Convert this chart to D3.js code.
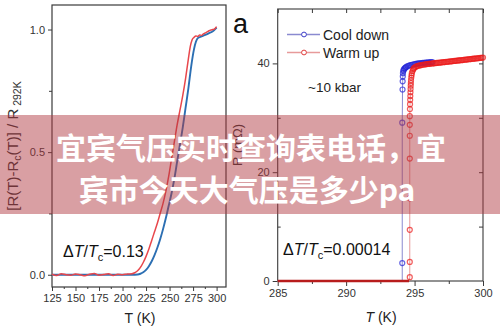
<!DOCTYPE html>
<html><head><meta charset="utf-8">
<script src="https://cdn.jsdelivr.net/npm/d3@7"></script>
<style>
html,body{margin:0;padding:0;background:#fff;}
svg{display:block;font-family:"Liberation Sans",Arial,sans-serif;}
</style></head>
<body>
<svg id="chart" width="500" height="331"></svg>
<script>
// ---------- Left panel data: normalized resistance vs T ----------
const leftRedT  = [125,130,135,140,145,150,155,160,165,170,175,180,185,190,195,200,205,210,213,216,219,222,225,228,231,234,237,240,243,246,249,252,255,258,261,264,267,270,272,274,276,278,280,282,284,286,288,290,292,294,296,298,300];
const leftRedV  = [0.002,-0.003,0.004,0.0,-0.002,0.003,0.0,-0.004,0.002,0.005,-0.002,0.001,0.004,-0.003,0.002,0.0,0.003,0.004,0.008,0.016,0.03,0.05,0.075,0.105,0.14,0.175,0.21,0.25,0.29,0.34,0.4,0.47,0.54,0.61,0.67,0.73,0.8,0.88,0.93,0.958,0.968,0.974,0.972,0.978,0.976,0.982,0.986,0.99,0.995,0.998,1.0,1.003,1.012];
const leftBlueT = [125,150,175,200,210,216,219,222,225,228,231,234,237,240,243,246,249,252,255,258,261,264,267,270,273,276,278,280,284,288,292,296,300];
const leftBlueV = [0,0,0,0,0,0.001,0.004,0.01,0.02,0.035,0.055,0.08,0.11,0.145,0.185,0.23,0.28,0.33,0.39,0.46,0.53,0.6,0.68,0.76,0.85,0.92,0.95,0.965,0.972,0.978,0.985,0.993,1.008];
const leftXTicks = [125,150,175,200,225,250,275,300];
const leftYTicks = [0,0.5,1.0];
const leftYTickLabels = ["0.0","0.5","1.0"];

// ---------- Right panel data: R (mOhm) vs T ----------
const coolT = [285,294.1,294.1,294.1,294.12,294.13,294.14,294.15,294.18,294.2,294.25,294.3,294.35,294.4,294.5,294.6,294.7,294.8,294.9,295.0,295.1,295.2,295.3,295.4,295.5,295.6,295.7,295.8,295.9,296.0,296.1,296.2,296.3];
const coolR = [0,0,3.3,29.1,35.2,36.7,37.6,38.2,38.6,38.8,39.0,39.15,39.25,39.35,39.5,39.6,39.68,39.75,39.8,39.85,39.9,39.95,40.0,40.02,40.05,40.08,40.1,40.13,40.15,40.18,40.2,40.22,40.25];
const warmT = [285,294.6,294.65,294.65,294.65,294.65,294.65,294.65,294.65,294.65,294.66,294.67,294.68,294.69,294.7,294.71,294.72,294.73,294.74,294.76,294.78,294.8,294.85,294.9,294.95,295.0,295.1,295.2,295.3,295.4,295.5,295.6,295.7,295.8,295.9,296.0,296.1,296.2,296.3,296.4,296.5,296.6,296.7,296.8,296.9,297.0,297.1,297.2,297.3,297.4,297.5,297.6,297.7,297.8,297.9,298.0,298.1,298.2,298.3,298.4,298.5,298.6,298.7,298.8,298.9,299.0,299.1,299.2,299.3,299.4,299.5,299.6,299.7,299.8,299.9,300.0];
const warmR = [0,0,0.7,3.5,9.4,15.2,22.5,26.7,28.7,30.3,31.6,32.5,33.3,34.0,34.7,35.3,35.9,36.4,36.9,37.4,37.8,38.2,38.6,38.9,39.1,39.25,39.4,39.5,39.58,39.65,39.7,39.75,39.8,39.83,39.87,39.9,39.93,39.96,39.99,40.02,40.05,40.08,40.1,40.13,40.16,40.19,40.22,40.25,40.28,40.3,40.33,40.36,40.39,40.42,40.45,40.48,40.51,40.54,40.56,40.59,40.62,40.65,40.68,40.71,40.74,40.77,40.8,40.83,40.86,40.89,40.92,40.95,40.98,41.01,41.04,41.07];
const rightXTicks = [285,290,295,300];
const rightYTicks = [0,20,40];
const legendLabels = ["Cool down","Warm up"];

const bannerLines = ["宜宾气压实时查询表电话，宜","宾市今天大气压是多少pa"];

const svg = d3.select("#chart");
const axisColor = "#3a3a3a";
const txtColor = "#222";

// ================= LEFT PANEL =================
const L = {x0:52, x1:226, y0:5, y1:287};
const xL = d3.scaleLinear().domain([125,310]).range([L.x0, L.x1]);
const yL = d3.scaleLinear().domain([-0.05,1.1]).range([L.y1, L.y0]);

const gL = svg.append("g");
const axL = gL.append("g").attr("transform",`translate(0,${L.y1})`)
  .call(d3.axisBottom(xL).tickValues(leftXTicks).tickSize(4).tickSizeOuter(0).tickPadding(3));
const axLm = gL.append("g").attr("transform",`translate(0,${L.y1})`)
  .call(d3.axisBottom(xL).tickValues(leftXTicks.map(d=>d+12.5).filter(d=>d<310)).tickSize(2).tickFormat(""));
const ayL = gL.append("g").attr("transform",`translate(${L.x0},0)`)
  .call(d3.axisLeft(yL).tickValues(leftYTicks).tickFormat((d,i)=>leftYTickLabels[i]).tickSize(4).tickSizeOuter(0).tickPadding(3));
const ayLm = gL.append("g").attr("transform",`translate(${L.x0},0)`)
  .call(d3.axisLeft(yL).tickValues([0.25,0.75]).tickSize(3).tickFormat(""));
[axL,axLm,ayL,ayLm].forEach(a=>{
  a.select(".domain").remove();
  a.selectAll("line").attr("stroke",axisColor);
  a.selectAll("text").attr("fill","#333").attr("font-size",11).attr("font-family","Liberation Sans, Arial, sans-serif");
});
gL.append("rect").attr("x",L.x0).attr("y",L.y0).attr("width",L.x1-L.x0).attr("height",L.y1-L.y0)
  .attr("fill","none").attr("stroke",axisColor).attr("stroke-width",1.2);

const lineL = d3.line().x(d=>xL(d[0])).y(d=>yL(d[1])).curve(d3.curveMonotoneX);
gL.append("path").datum(d3.zip(leftBlueT,leftBlueV)).attr("d",lineL)
  .attr("fill","none").attr("stroke","#2c6fb3").attr("stroke-width",1.9);
gL.append("path").datum(d3.zip(leftRedT,leftRedV)).attr("d",lineL)
  .attr("fill","none").attr("stroke","#e8474c").attr("stroke-width",1.5);

gL.append("text").attr("x",140).attr("y",323).attr("text-anchor","middle")
  .attr("font-size",14).attr("fill",txtColor).text("T (K)");
const ylab = gL.append("text").attr("transform","translate(18,146) rotate(-90)")
  .attr("text-anchor","middle").attr("font-size",15).attr("fill","#333");
ylab.append("tspan").text("[R(T)-R");
ylab.append("tspan").attr("font-size",10.5).attr("dy",3).text("c");
ylab.append("tspan").attr("dy",-3).text("(T)] / R");
ylab.append("tspan").attr("font-size",10.5).attr("dy",3).text(" 292K");

function dtText(g,x,y,val){
  const t = g.append("text").attr("x",x).attr("y",y).attr("font-size",16).attr("fill","#111");
  t.append("tspan").text("Δ");
  t.append("tspan").attr("font-style","italic").text("T");
  t.append("tspan").text("/");
  t.append("tspan").attr("font-style","italic").text("T");
  t.append("tspan").attr("font-size",11).attr("dy",4).text("c");
  t.append("tspan").attr("dy",-4).text("="+val);
}
dtText(gL,63,256.5,"0.13");

// ================= RIGHT PANEL =================
const R = {x0:277.7, x1:483, y0:9, y1:281};
const xR = d3.scaleLinear().domain([285,300]).range([R.x0,R.x1]);
const yR = d3.scaleLinear().domain([0,50]).range([R.y1,R.y0]);
const gR = svg.append("g");

const axes = [];
axes.push(gR.append("g").attr("transform",`translate(0,${R.y1})`)
  .call(d3.axisBottom(xR).tickValues(rightXTicks).tickSize(5).tickSizeOuter(0).tickPadding(3)));
axes.push(gR.append("g").attr("transform",`translate(0,${R.y1})`)
  .call(d3.axisBottom(xR).tickValues([287.5,292.5,297.5]).tickSize(3).tickFormat("")));
axes.push(gR.append("g").attr("transform",`translate(0,${R.y0})`)
  .call(d3.axisBottom(xR).tickValues([285,287.5,290,292.5,295,297.5,300]).tickSize(4).tickFormat("")));
axes.push(gR.append("g").attr("transform",`translate(${R.x0},0)`)
  .call(d3.axisLeft(yR).tickValues(rightYTicks).tickSize(5).tickSizeOuter(0).tickPadding(3)));
axes.push(gR.append("g").attr("transform",`translate(${R.x0},0)`)
  .call(d3.axisRight(yR).tickValues([10,30]).tickSize(3).tickFormat("")));
axes.push(gR.append("g").attr("transform",`translate(${R.x1},0)`)
  .call(d3.axisLeft(yR).tickValues([10,20,30,40]).tickSize(4).tickFormat("")));
axes.forEach(a=>{
  a.select(".domain").remove();
  a.selectAll("line").attr("stroke",axisColor);
  a.selectAll("text").attr("fill","#333").attr("font-size",11).attr("font-family","Liberation Sans, Arial, sans-serif");
});
gR.append("rect").attr("x",R.x0).attr("y",R.y0).attr("width",R.x1-R.x0).attr("height",R.y1-R.y0)
  .attr("fill","none").attr("stroke",axisColor).attr("stroke-width",1.1);

const lineR = d3.line().x(d=>xR(d[0])).y(d=>yR(d[1]));
const cool = d3.zip(coolT,coolR), warm = d3.zip(warmT,warmR);
gR.append("path").datum(cool).attr("d",lineR).attr("fill","none").attr("stroke","#8a8ad0").attr("stroke-width",1);
gR.append("path").datum(warm).attr("d",lineR).attr("fill","none").attr("stroke","#e79a9a").attr("stroke-width",1);
gR.append("g").selectAll("circle").data(cool.filter(d=>d[1]>0.5)).join("circle")
  .attr("cx",d=>xR(d[0])).attr("cy",d=>yR(d[1])).attr("r",2.5)
  .attr("fill","none").attr("stroke","rgb(35,35,215)").attr("stroke-opacity",0.7).attr("stroke-width",1.2);
gR.append("g").selectAll("circle").data(warm.filter(d=>d[1]>0.3)).join("circle")
  .attr("cx",d=>xR(d[0])).attr("cy",d=>yR(d[1])).attr("r",2.5)
  .attr("fill","none").attr("stroke","rgb(235,25,25)").attr("stroke-opacity",0.7).attr("stroke-width",1.2);
gR.append("path").datum(warm.filter(d=>d[1]===0)).attr("d",lineR)
  .attr("fill","none").attr("stroke","#b81c1c").attr("stroke-width",2.6);

const legColors = [["#8a8ad0","rgb(60,60,200)"],["#e79a9a","rgb(225,60,60)"]];
legendLabels.forEach((lab,i)=>{
  const y = 34.5 + i*18;
  gR.append("line").attr("x1",287).attr("x2",320).attr("y1",y).attr("y2",y).attr("stroke",legColors[i][0]).attr("stroke-width",1.3);
  gR.append("circle").attr("cx",304).attr("cy",y).attr("r",2.4).attr("fill","#fff").attr("stroke",legColors[i][1]).attr("stroke-width",1);
  gR.append("text").attr("x",323).attr("y",y+5).attr("font-size",14).attr("fill",txtColor).text(lab);
});
gR.append("text").attr("x",308).attr("y",92).attr("font-size",13.5).attr("fill",txtColor).text("~10 kbar");
gR.append("text").attr("x",233).attr("y",33).attr("font-size",27).attr("fill","#111").text("a");
const xlabR = gR.append("text").attr("x",381).attr("y",322).attr("text-anchor","middle").attr("font-size",14).attr("fill",txtColor);
xlabR.append("tspan").attr("font-style","italic").text("T");
xlabR.append("tspan").text(" (K)");
gR.append("text").attr("transform","translate(242,145) rotate(-90)").attr("text-anchor","middle")
  .attr("font-size",13).attr("fill","#333").text("R (mΩ)");
dtText(gR,283,255,"0.00014");

// ================= BANNER OVERLAY =================
svg.append("rect").attr("x",0).attr("y",115).attr("width",500).attr("height",99)
  .attr("fill","rgb(175,55,62)").attr("fill-opacity",0.48);
const bx = [251,247], by = [146,188];
bannerLines.forEach((s,i)=>{
  svg.append("text").attr("x",bx[i]).attr("y",by[i]).attr("text-anchor","middle")
    .attr("dominant-baseline","central")
    .attr("font-family","'Noto Sans CJK SC','Noto Sans',sans-serif").attr("font-weight","bold")
    .attr("font-size",30).attr("fill","#fff").text(s);
});
</script>
</body></html>
